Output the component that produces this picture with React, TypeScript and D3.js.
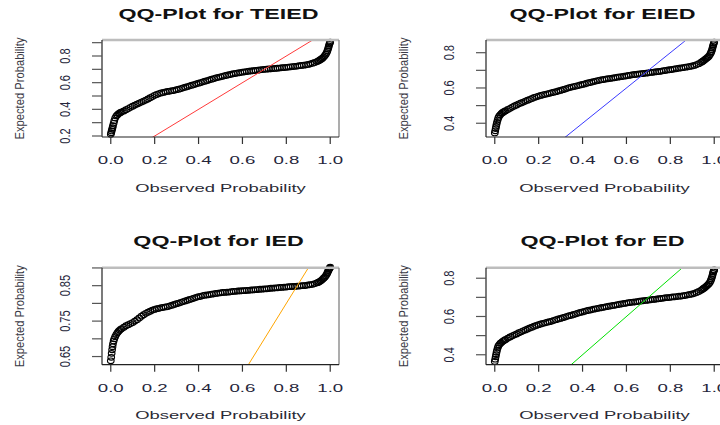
import React from 'react';
import * as d3 from 'd3';

// Observed (empirical) probabilities shared by all four Q-Q panels
const observed = [
  0, 0.002, 0.004, 0.006, 0.008, 0.01, 0.013, 0.016, 0.02, 0.025, 0.03, 0.035, 0.04, 0.045, 0.05,
  0.06, 0.07, 0.08, 0.09, 0.1, 0.11, 0.12, 0.13, 0.14, 0.15,
  0.16, 0.17, 0.18, 0.19, 0.2, 0.21, 0.22, 0.23, 0.24, 0.25,
  0.26, 0.27, 0.28, 0.29, 0.3, 0.31, 0.32, 0.33, 0.34, 0.35,
  0.36, 0.37, 0.38, 0.39, 0.4, 0.41, 0.42, 0.43, 0.44, 0.45,
  0.46, 0.47, 0.48, 0.49, 0.5, 0.51, 0.52, 0.53, 0.54, 0.55,
  0.56, 0.57, 0.58, 0.59, 0.6, 0.61, 0.62, 0.63, 0.64, 0.65,
  0.66, 0.67, 0.68, 0.69, 0.7, 0.71, 0.72, 0.73, 0.74, 0.75,
  0.76, 0.77, 0.78, 0.79, 0.8, 0.81, 0.82, 0.83, 0.84, 0.85,
  0.86, 0.87, 0.88, 0.89, 0.9, 0.91, 0.92, 0.93, 0.94,
  0.945, 0.95, 0.955, 0.96, 0.965, 0.97, 0.975, 0.98, 0.984, 0.987, 0.99, 0.992, 0.994, 0.996, 0.998, 1,
];

// Expected probabilities under each fitted model
const teiedExpected = [
  0.213, 0.225, 0.238, 0.25, 0.262, 0.277, 0.295, 0.315, 0.335, 0.35, 0.358, 0.366, 0.372, 0.377, 0.381,
  0.388, 0.397, 0.406, 0.415, 0.424, 0.432, 0.44, 0.447, 0.455, 0.462,
  0.47, 0.478, 0.487, 0.496, 0.505, 0.512, 0.518, 0.523, 0.527, 0.531,
  0.534, 0.537, 0.54, 0.543, 0.547, 0.551, 0.556, 0.561, 0.566, 0.571,
  0.576, 0.581, 0.586, 0.591, 0.596, 0.601, 0.606, 0.611, 0.616, 0.621,
  0.626, 0.631, 0.636, 0.64, 0.644, 0.648, 0.652, 0.656, 0.66, 0.664,
  0.667, 0.67, 0.673, 0.676, 0.679, 0.681, 0.683, 0.686, 0.688, 0.69,
  0.692, 0.694, 0.696, 0.698, 0.7, 0.701, 0.703, 0.704, 0.706, 0.707,
  0.709, 0.71, 0.712, 0.713, 0.715, 0.717, 0.719, 0.721, 0.723, 0.725,
  0.727, 0.729, 0.731, 0.734, 0.737, 0.741, 0.746, 0.752, 0.758,
  0.762, 0.767, 0.772, 0.778, 0.784, 0.792, 0.802, 0.814, 0.826, 0.838, 0.852, 0.864, 0.876, 0.888, 0.897, 0.905,
];

const eiedExpected = [
  0.345, 0.357, 0.37, 0.382, 0.394, 0.405, 0.418, 0.43, 0.44, 0.448, 0.455, 0.46, 0.464, 0.468, 0.471,
  0.478, 0.485, 0.492, 0.498, 0.504, 0.51, 0.515, 0.52, 0.526, 0.531,
  0.536, 0.541, 0.546, 0.55, 0.554, 0.558, 0.561, 0.564, 0.567, 0.57,
  0.573, 0.576, 0.579, 0.583, 0.586, 0.59, 0.594, 0.598, 0.602, 0.605,
  0.608, 0.611, 0.614, 0.617, 0.62, 0.623, 0.627, 0.63, 0.633, 0.636,
  0.639, 0.642, 0.645, 0.647, 0.649, 0.651, 0.653, 0.655, 0.657, 0.659,
  0.661, 0.663, 0.665, 0.667, 0.669, 0.671, 0.673, 0.675, 0.677, 0.678,
  0.68, 0.681, 0.683, 0.684, 0.686, 0.688, 0.689, 0.691, 0.692, 0.694,
  0.696, 0.698, 0.7, 0.702, 0.704, 0.706, 0.708, 0.71, 0.712, 0.714,
  0.716, 0.718, 0.72, 0.722, 0.725, 0.728, 0.733, 0.738, 0.745,
  0.749, 0.753, 0.758, 0.763, 0.768, 0.773, 0.779, 0.788, 0.797, 0.806, 0.816, 0.826, 0.836, 0.845, 0.853, 0.86,
];

const iedExpected = [
  0.638, 0.648, 0.659, 0.669, 0.678, 0.686, 0.694, 0.7, 0.706, 0.712, 0.717, 0.721, 0.724, 0.727, 0.729,
  0.733, 0.737, 0.74, 0.743, 0.746, 0.75, 0.754, 0.759, 0.764, 0.768,
  0.772, 0.775, 0.778, 0.781, 0.783, 0.785, 0.786, 0.788, 0.789, 0.79,
  0.791, 0.793, 0.795, 0.797, 0.799, 0.801, 0.803, 0.805, 0.807, 0.809,
  0.811, 0.813, 0.815, 0.817, 0.819, 0.82, 0.822, 0.823, 0.824, 0.825,
  0.826, 0.827, 0.828, 0.829, 0.83, 0.831, 0.831, 0.832, 0.832, 0.833,
  0.834, 0.834, 0.835, 0.835, 0.836, 0.836, 0.837, 0.837, 0.838, 0.838,
  0.839, 0.839, 0.84, 0.84, 0.841, 0.841, 0.842, 0.843, 0.843, 0.844,
  0.844, 0.845, 0.845, 0.846, 0.846, 0.847, 0.847, 0.848, 0.848, 0.849,
  0.849, 0.85, 0.85, 0.851, 0.852, 0.853, 0.854, 0.856, 0.858,
  0.859, 0.861, 0.863, 0.865, 0.868, 0.871, 0.874, 0.878, 0.882, 0.886, 0.89, 0.893, 0.896, 0.898, 0.9, 0.902,
];

const edExpected = [
  0.365, 0.377, 0.389, 0.401, 0.413, 0.423, 0.435, 0.445, 0.452, 0.459, 0.464, 0.469, 0.473, 0.477, 0.48,
  0.487, 0.493, 0.499, 0.504, 0.509, 0.515, 0.52, 0.525, 0.53, 0.535,
  0.54, 0.544, 0.549, 0.553, 0.557, 0.561, 0.564, 0.567, 0.57, 0.573,
  0.576, 0.58, 0.583, 0.587, 0.59, 0.594, 0.597, 0.601, 0.604, 0.607,
  0.611, 0.614, 0.618, 0.621, 0.624, 0.627, 0.63, 0.633, 0.635, 0.638,
  0.64, 0.643, 0.645, 0.647, 0.649, 0.651, 0.654, 0.656, 0.658, 0.66,
  0.662, 0.664, 0.666, 0.668, 0.67, 0.672, 0.674, 0.675, 0.677, 0.678,
  0.68, 0.681, 0.683, 0.684, 0.686, 0.687, 0.689, 0.69, 0.692, 0.693,
  0.695, 0.696, 0.698, 0.699, 0.7, 0.702, 0.703, 0.704, 0.706, 0.707,
  0.709, 0.711, 0.713, 0.715, 0.718, 0.721, 0.726, 0.731, 0.737,
  0.741, 0.745, 0.749, 0.754, 0.759, 0.764, 0.77, 0.778, 0.787, 0.796, 0.806, 0.815, 0.825, 0.833, 0.839, 0.843,
];

const panelTitles = ['QQ-Plot for TEIED', 'QQ-Plot for EIED', 'QQ-Plot for IED', 'QQ-Plot for ED'];
const xTicks = [0, 0.2, 0.4, 0.6, 0.8, 1.0];
const teiedYTicks = [0.2, 0.3, 0.4, 0.5, 0.6, 0.7, 0.8, 0.9];
const teiedYLabels = [0.2, 0.4, 0.6, 0.8];
const eiedYTicks = [0.4, 0.5, 0.6, 0.7, 0.8];
const eiedYLabels = [0.4, 0.6, 0.8];
const iedYTicks = [0.65, 0.7, 0.75, 0.8, 0.85, 0.9];
const iedYLabels = [0.65, 0.75, 0.85];
const edYTicks = [0.4, 0.5, 0.6, 0.7, 0.8];
const edYLabels = [0.4, 0.6, 0.8];

const FONT = "'Liberation Sans', Arial, Helvetica, sans-serif";
const W = 720;
const H = 425;
const BOX_W = 237;
const BOX_H = 97;

type PanelSpec = {
  title: string;
  values: number[];
  yTicks: number[];
  yLabels: number[];
  yFormat: string;
  yDomain: [number, number];
  lineColor: string;
  left: number;
  top: number;
};

const panels: PanelSpec[] = [
  { title: panelTitles[0], values: teiedExpected, yTicks: teiedYTicks, yLabels: teiedYLabels, yFormat: '.1f', yDomain: [0.1925, 0.92], lineColor: '#ff3a3a', left: 102, top: 40 },
  { title: panelTitles[1], values: eiedExpected, yTicks: eiedYTicks, yLabels: eiedYLabels, yFormat: '.1f', yDomain: [0.322, 0.872], lineColor: '#3a3aff', left: 486, top: 40 },
  { title: panelTitles[2], values: iedExpected, yTicks: iedYTicks, yLabels: iedYLabels, yFormat: '.2f', yDomain: [0.627, 0.9007], lineColor: '#ffa500', left: 102, top: 267.7 },
  { title: panelTitles[3], values: edExpected, yTicks: edYTicks, yLabels: edYLabels, yFormat: '.1f', yDomain: [0.348, 0.855], lineColor: '#00e000', left: 486, top: 267.7 },
];

function QQPanel({ spec, index }: { spec: PanelSpec; index: number }) {
  const { left, top } = spec;
  const right = left + BOX_W;
  const bottom = top + BOX_H;
  const x = d3.scaleLinear().domain([-0.04, 1.04]).range([left, right]);
  const y = d3.scaleLinear().domain(spec.yDomain).range([bottom, top]);
  const fmt = d3.format(spec.yFormat);
  const cx = (left + right) / 2;
  const cy = (top + bottom) / 2;
  const clipId = `qq-clip-${index}`;
  const refLine = d3.line<number>().x((d) => x(d)).y((d) => y(d));

  return (
    <g>
      <defs>
        <clipPath id={clipId}>
          <rect x={left} y={top} width={BOX_W} height={BOX_H} />
        </clipPath>
      </defs>

      {/* title */}
      <text
        transform={`translate(${cx - 2},${top - 21.5}) scale(1.5,1)`}
        textAnchor="middle"
        fontFamily={FONT}
        fontWeight="bold"
        fontSize={15.5}
        fill="#111"
      >
        {spec.title}
      </text>

      {/* points */}
      <g fill="none" stroke="#000" strokeWidth={1.15}>
        {observed.map((o, i) => (
          <ellipse key={i} cx={x(o)} cy={y(spec.values[i])} rx={3.3} ry={2.8} />
        ))}
      </g>

      {/* identity reference line */}
      <path
        d={refLine([-0.04, 1.04]) || ''}
        stroke={spec.lineColor}
        strokeWidth={1}
        fill="none"
        clipPath={`url(#${clipId})`}
      />

      {/* frame */}
      <line x1={left} x2={right} y1={top} y2={top} stroke="#bdbdbd" strokeWidth={2.4} />
      <line x1={right} x2={right} y1={top} y2={bottom} stroke="#8a8a8a" strokeWidth={1.4} />
      <line x1={left} x2={left} y1={top} y2={bottom} stroke="#222" strokeWidth={1.2} />
      <line x1={left} x2={right} y1={bottom} y2={bottom} stroke="#222" strokeWidth={1.2} />

      {/* x axis */}
      {xTicks.map((t) => (
        <g key={`xt-${t}`}>
          <line x1={x(t)} x2={x(t)} y1={bottom} y2={bottom + 7} stroke="#333" strokeWidth={1.2} />
          <text
            transform={`translate(${x(t)},${bottom + 27}) scale(1.62,1)`}
            textAnchor="middle"
            fontFamily={FONT}
            fontSize={11.5}
            fill="#25253a"
          >
            {d3.format('.1f')(t)}
          </text>
        </g>
      ))}
      <text
        transform={`translate(${cx},${bottom + 54.5}) scale(1.6,1)`}
        textAnchor="middle"
        fontFamily={FONT}
        fontSize={11.5}
        fill="#2a2a35"
      >
        Observed Probability
      </text>

      {/* y axis */}
      {spec.yTicks.map((t) => (
        <line key={`yt-${t}`} x1={left - 10} x2={left} y1={y(t)} y2={y(t)} stroke="#555" strokeWidth={1.2} />
      ))}
      {spec.yLabels.map((t) => (
        <text
          key={`yl-${t}`}
          transform={`translate(${left - 32},${y(t)}) scale(1.27,1) rotate(-90)`}
          textAnchor="middle"
          fontFamily={FONT}
          fontSize={11}
          fill="#25253a"
        >
          {fmt(t)}
        </text>
      ))}
      <text
        transform={`translate(${left - 78},${cy}) scale(1.2,1) rotate(-90)`}
        textAnchor="middle"
        fontFamily={FONT}
        fontSize={11.2}
        fill="#3a3a45"
      >
        Expected Probability
      </text>
    </g>
  );
}

export default function App() {
  return (
    <svg
      width={W}
      height={H}
      viewBox={`0 0 ${W} ${H}`}
      style={{ position: 'absolute', left: 0, top: 0, background: '#fff' }}
    >
      <rect x={0} y={0} width={W} height={H} fill="#fff" />
      {panels.map((p, i) => (
        <QQPanel key={p.title} spec={p} index={i} />
      ))}
    </svg>
  );
}
